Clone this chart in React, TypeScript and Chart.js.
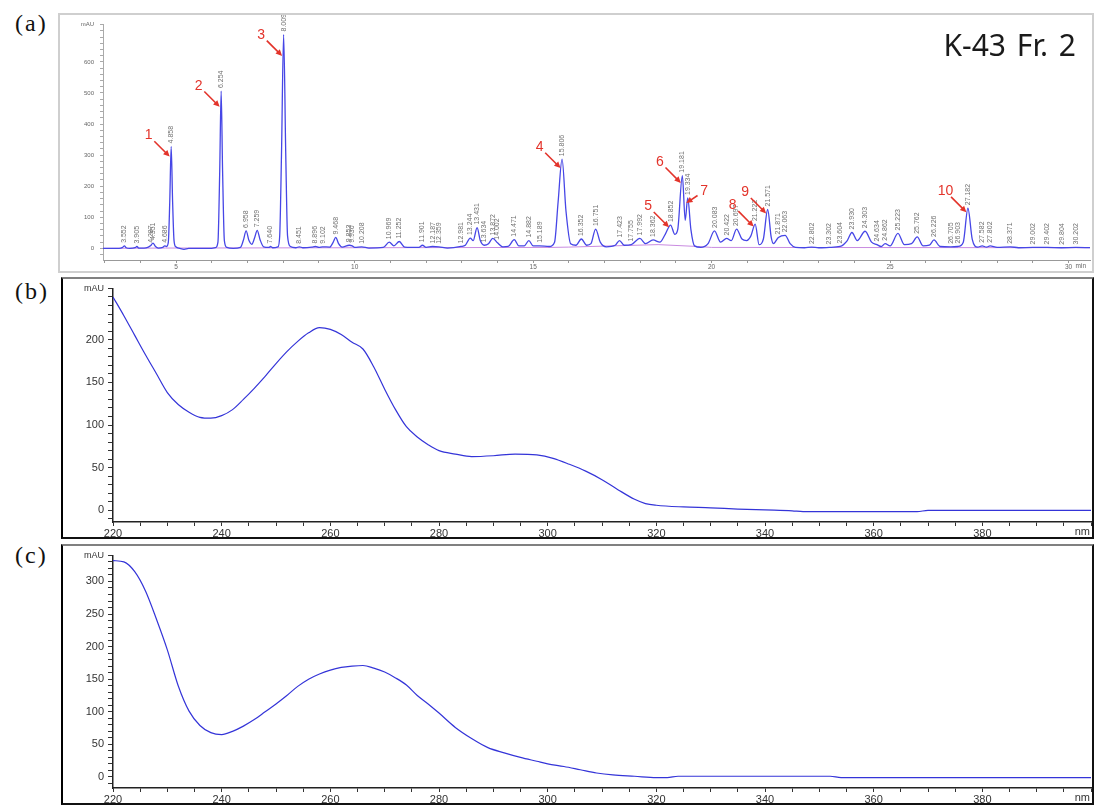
import React, { useEffect, useRef } from 'react';
import { Chart, registerables } from 'chart.js';
Chart.register(...registerables);

// ---------- Panel (a): HPLC chromatogram ----------
const chromTime = [
  2.95, 3.4, 3.5, 3.55, 3.6, 3.7, 3.85, 3.9, 3.95, 4.1, 4.22, 4.28, 4.35, 4.42, 4.5, 4.62, 4.68, 4.73,
  4.78, 4.82, 4.86, 4.9, 4.94, 4.99, 5.1, 5.22, 5.35, 6.0, 6.1, 6.17, 6.22, 6.26, 6.3, 6.35, 6.42, 6.6,
  6.8, 6.88, 6.96, 7.04, 7.12, 7.2, 7.27, 7.35, 7.45, 7.6, 7.64, 7.7, 7.85, 7.9, 7.95, 8.01, 8.07, 8.12,
  8.2, 8.35, 8.45, 8.55, 8.8, 8.9, 9.0, 9.1, 9.3, 9.4, 9.47, 9.55, 9.65, 9.85, 9.93, 10.0, 10.2, 10.4,
  10.8, 10.97, 11.1, 11.25, 11.4, 11.8, 11.9, 12.0, 12.18, 12.36, 12.6, 12.98, 13.1, 13.24, 13.32, 13.43,
  13.52, 13.63, 13.75, 13.87, 14.0, 14.15, 14.3, 14.47, 14.6, 14.75, 14.88, 15.0, 15.18, 15.45, 15.6,
  15.7, 15.81, 15.92, 16.05, 16.2, 16.35, 16.5, 16.62, 16.75, 16.88, 17.05, 17.3, 17.42, 17.55, 17.75,
  17.99, 18.15, 18.36, 18.55, 18.7, 18.85, 18.97, 19.05, 19.18, 19.26, 19.33, 19.42, 19.52, 19.7, 19.9,
  20.08, 20.25, 20.42, 20.55, 20.7, 20.85, 20.98, 21.1, 21.22, 21.33, 21.45, 21.57, 21.67, 21.73, 21.87,
  22.06, 22.2, 22.35, 22.6, 22.8, 23.0, 23.3, 23.6, 23.8, 23.93, 24.08, 24.3, 24.48, 24.63, 24.75, 24.86,
  25.0, 25.22, 25.4, 25.6, 25.76, 25.92, 26.1, 26.23, 26.4, 26.7, 26.9, 27.05, 27.18, 27.3, 27.45, 27.58,
  27.7, 27.8, 28.0, 28.37, 28.6, 29.0, 29.4, 29.8, 30.2, 30.6,
];
const chromMAU = [
  0, 0, 3, 8, 2, 0, 2, 6, 1, 1, 4, 8, 17, 6, 1, 3, 8, 6,
  20, 150, 328, 150, 25, 5, 0, -3, 0, 0, 2, 20, 250, 506, 250, 25, 3, 0,
  3, 25, 56, 25, 13, 35, 58, 28, 5, 3, 6, 2, 5, 40, 300, 688, 300, 40,
  6, 2, 5, 2, 4, 6, 3, 5, 4, 20, 35, 15, 4, 10, 8, 3, 5, 1,
  3, 20, 8, 22, 4, 3, 10, 3, 6, 5, 1, 6, 10, 33, 25, 67,
  25, 10, 15, 32, 18, 5, 6, 28, 8, 8, 25, 8, 8, 6, 20,
  150, 287, 120, 15, 10, 30, 10, 15, 62, 20, 5, 10, 25, 10, 12,
  32, 15, 27, 20, 45, 75, 45, 60, 234, 90, 162, 60, 8, 3, 15,
  56, 20, 32, 25, 62, 30, 25, 40, 78, 12, 30, 125, 35, 15, 35,
  42, 15, 3, 2, 4, 2, 3, 6, 25, 51, 25, 55, 20, 12, 6, 15,
  8, 48, 12, 15, 37, 8, 10, 27, 6, 5, 6, 20, 129, 30, 4, 8,
  4, 8, 3, 5, 2, 3, 3, 2, 3, 2,
];
const baseTime = [2.95, 4.7, 5.0, 15.5, 16.0, 18.5, 19.6, 20.0, 30.6];
const baseMAU = [0, 1, 1, 3, 4, 12, 6, 3, 2];
const rtLabels = [
  3.552, 3.905, 4.287, 4.351, 4.686, 4.858, 6.254, 6.958, 7.259, 7.640, 8.009, 8.451, 8.896, 9.102,
  9.468, 9.853, 9.930, 10.208, 10.969, 11.252, 11.901, 12.187, 12.359, 12.981, 13.244, 13.431, 13.634,
  13.872, 14.002, 14.471, 14.882, 15.189, 15.806, 16.352, 16.751, 17.423, 17.755, 17.992, 18.362,
  18.852, 19.181, 19.334, 20.083, 20.422, 20.697, 21.222, 21.571, 21.871, 22.063, 22.802, 23.302,
  23.604, 23.930, 24.303, 24.634, 24.862, 25.223, 25.762, 26.226, 26.705, 26.903, 27.182, 27.582,
  27.802, 28.371, 29.002, 29.402, 29.804, 30.202,
];
const peakIds = ['1', '2', '3', '4', '5', '6', '7', '8', '9', '10'];
const peakTimes = [4.86, 6.26, 8.01, 15.81, 18.85, 19.18, 19.33, 21.22, 21.57, 27.18];
const chromXLabels = [5, 10, 15, 20, 25, 30];
const chromYLabels = [0, 100, 200, 300, 400, 500, 600];

// ---------- Panel (b): UV spectrum ----------
const uvB_nm = [
  220, 222, 224, 226, 228, 230, 232, 234, 236, 238, 240, 242, 244, 246, 248, 250, 252, 254, 256, 258,
  260, 262, 264, 266, 268, 270, 272, 274, 276, 278, 280, 283, 286, 290, 294, 298, 301, 304, 307, 310,
  313, 316, 318, 320, 325, 330, 335, 340, 345, 347, 360, 368, 370, 380, 390, 400,
];
const uvB_mAU = [
  250, 228, 205, 182, 160, 138, 124, 115, 109, 108, 111, 118, 130, 143, 157, 172, 186, 198, 208, 214,
  212, 206, 197, 189, 168, 142, 118, 98, 86, 77, 70, 66, 63, 64, 66, 65, 61, 54, 46, 36,
  24, 13, 8, 6, 4, 3, 1.5, 0.5, -0.5, -1.5, -1.5, -1.5, 0, 0, 0, 0,
];

// ---------- Panel (c): UV spectrum ----------
const uvC_nm = [
  220, 222, 224, 226, 228, 230, 232, 234, 236, 238, 240, 242, 244, 246, 248, 250, 252, 254, 256, 258,
  260, 262, 264, 266, 268, 270, 272, 274, 276, 278, 280, 283, 286, 289, 292, 295, 298, 300, 303, 306,
  309, 312, 316, 320, 322, 324, 330, 340, 352, 354, 370, 400,
];
const uvC_mAU = [
  332, 330, 315, 285, 242, 195, 140, 101, 79, 68, 65, 70, 78, 88, 100, 112, 125, 139, 150, 158,
  164, 168, 170, 171, 167, 161, 152, 141, 125, 112, 98, 76, 59, 45, 37, 30, 24, 20, 16, 11,
  6, 3, 1, -1, -1, 1, 1, 1, 1, -1, -1, -1,
];
const uvXLabels = [220, 240, 260, 280, 300, 320, 340, 360, 380];

// ---------- styles ----------
const FONT = '"Liberation Sans", Arial, sans-serif';
const RED = '#e3342b';
const annoOffset = { dx: -21, dy: -21, dx7: 18, dy7: -12, tipFrac: 0.9 };

function localMax(t: number) {
  let m = -Infinity;
  chromTime.forEach((tt, i) => {
    if (Math.abs(tt - t) <= 0.06) m = Math.max(m, chromMAU[i]);
  });
  return m === -Infinity ? 0 : m;
}

const chromPlugin = {
  id: 'chromAnno',
  afterDatasetsDraw(chart: any) {
    const { ctx, scales } = chart;
    const x = scales.x, y = scales.y;
    ctx.save();
    // retention time labels
    ctx.font = `7px ${FONT}`;
    ctx.fillStyle = '#707070';
    ctx.textAlign = 'left';
    ctx.textBaseline = 'middle';
    rtLabels.forEach((t) => {
      const v = localMax(t);
      const px = x.getPixelForValue(t);
      const py = y.getPixelForValue(v);
      ctx.save();
      ctx.translate(px, py - 3);
      ctx.rotate(-Math.PI / 2);
      ctx.fillText(t.toFixed(3), 0, 0);
      ctx.restore();
    });
    // red numbered arrows
    peakIds.forEach((id, i) => {
      const t = peakTimes[i];
      const v = localMax(t);
      const tipX = x.getPixelForValue(t) - 1.5;
      const tipY = y.getPixelForValue(v * annoOffset.tipFrac);
      const dx = id === '7' ? annoOffset.dx7 : annoOffset.dx;
      const dy = id === '7' ? annoOffset.dy7 : annoOffset.dy;
      const lx = tipX + dx, ly = tipY + dy;
      const ang = Math.atan2(tipY - ly, tipX - lx);
      const sx = lx + Math.cos(ang) * 8, sy = ly + Math.sin(ang) * 8;
      ctx.strokeStyle = RED;
      ctx.fillStyle = RED;
      ctx.lineWidth = 1.6;
      ctx.beginPath();
      ctx.moveTo(sx, sy);
      ctx.lineTo(tipX - Math.cos(ang) * 4, tipY - Math.sin(ang) * 4);
      ctx.stroke();
      ctx.beginPath();
      ctx.moveTo(tipX, tipY);
      ctx.lineTo(tipX - Math.cos(ang - 0.45) * 7, tipY - Math.sin(ang - 0.45) * 7);
      ctx.lineTo(tipX - Math.cos(ang + 0.45) * 7, tipY - Math.sin(ang + 0.45) * 7);
      ctx.closePath();
      ctx.fill();
      ctx.font = `14px ${FONT}`;
      ctx.textAlign = 'center';
      ctx.textBaseline = 'middle';
      ctx.fillText(id, lx, ly);
    });
    // "min" unit
    ctx.font = `6.5px ${FONT}`;
    ctx.fillStyle = '#666';
    ctx.textAlign = 'left';
    ctx.textBaseline = 'top';
    ctx.fillText('min', x.getPixelForValue(30) + 7, x.top + 3);
    ctx.restore();
  },
};

const nmPlugin = {
  id: 'nmUnit',
  afterDraw(chart: any) {
    const { ctx, chartArea, scales } = chart;
    ctx.save();
    ctx.font = `11px ${FONT}`;
    ctx.fillStyle = '#333';
    ctx.textAlign = 'right';
    ctx.textBaseline = 'top';
    ctx.fillText('nm', chartArea.right - 1, scales.x.top + 4);
    ctx.restore();
  },
};

function makeChrom() {
  return {
    type: 'line',
    data: {
      datasets: [
        {
          data: chromTime.map((t, i) => ({ x: t, y: chromMAU[i] })),
          borderColor: '#4646e6',
          borderWidth: 1.3,
          pointRadius: 0,
          cubicInterpolationMode: 'monotone',
          fill: false,
        },
        {
          data: baseTime.map((t, i) => ({ x: t, y: baseMAU[i] })),
          borderColor: '#c98be0',
          borderWidth: 1,
          pointRadius: 0,
          fill: false,
        },
      ],
    },
    options: {
      responsive: false,
      animation: false,
      events: [],
      layout: { padding: { top: 3, right: 2, left: 0, bottom: 0 }, autoPadding: false },
      plugins: { legend: { display: false }, tooltip: { enabled: false } },
      scales: {
        x: {
          type: 'linear',
          min: 2.95,
          max: 30.6,
          afterFit: (s: any) => { s.height = 11; },
          ticks: {
            stepSize: 1, autoSkip: false, maxRotation: 0, includeBounds: false, padding: 0,
            font: { size: 6.5, family: FONT }, color: '#666',
            callback: (v: number) => (chromXLabels.includes(v) ? String(v) : ''),
          },
          grid: { drawOnChartArea: false, drawTicks: true, tickLength: 3, color: '#999' },
          border: { color: '#999', width: 1 },
        },
        y: {
          min: -37.5,
          max: 720,
          afterFit: (s: any) => { s.width = 43; },
          ticks: {
            stepSize: 20, autoSkip: false, includeBounds: false, padding: 6,
            font: { size: 6, family: FONT }, color: '#666',
            callback: (v: number) => (v === 720 ? 'mAU' : chromYLabels.includes(v) ? String(v) : ''),
          },
          grid: { drawOnChartArea: false, drawTicks: true, tickLength: 3, color: '#aaa' },
          border: { color: '#aaa', width: 1 },
        },
      },
    },
    plugins: [chromPlugin],
  };
}

function makeUV(nm: number[], vals: number[], yMin: number, yMax: number, yLabels: number[]) {
  return {
    type: 'line',
    data: {
      datasets: [
        {
          data: nm.map((w, i) => ({ x: w, y: vals[i] })),
          borderColor: '#3434d8',
          borderWidth: 1.2,
          pointRadius: 0,
          cubicInterpolationMode: 'monotone',
          fill: false,
        },
      ],
    },
    options: {
      responsive: false,
      animation: false,
      events: [],
      layout: { padding: { top: yMax === 260 ? 2 : 4, right: 0, left: 0, bottom: 0 }, autoPadding: false },
      plugins: { legend: { display: false }, tooltip: { enabled: false } },
      scales: {
        x: {
          type: 'linear',
          min: 220,
          max: 400,
          afterFit: (s: any) => { s.height = 15; },
          ticks: {
            stepSize: 5, autoSkip: false, maxRotation: 0, includeBounds: false, padding: 1,
            font: { size: 11, family: FONT }, color: '#333',
            callback: (v: number) => (uvXLabels.includes(v) ? String(v) : ''),
          },
          grid: { drawOnChartArea: false, drawTicks: true, tickLength: 4, color: '#333' },
          border: { color: '#222', width: 1.5 },
        },
        y: {
          min: yMin,
          max: yMax,
          afterFit: (s: any) => { s.width = 50; },
          ticks: {
            stepSize: 10, autoSkip: false, includeBounds: false, padding: 4,
            font: (c: any) => ({ size: c.tick && c.tick.value === yMax ? 9 : 11, family: FONT }),
            color: '#333',
            callback: (v: number) => (v === yMax ? 'mAU' : yLabels.includes(v) ? String(v) : ''),
          },
          grid: { drawOnChartArea: false, drawTicks: true, tickLength: 5, color: '#333' },
          border: { color: '#222', width: 1.5 },
        },
      },
    },
    plugins: [nmPlugin],
  };
}

function ChartCanvas(props: { left: number; top: number; width: number; height: number; make: () => any }) {
  const ref = useRef<HTMLCanvasElement>(null);
  useEffect(() => {
    const chart = new Chart(ref.current as HTMLCanvasElement, props.make());
    return () => chart.destroy();
  }, []);
  return (
    <canvas
      ref={ref}
      width={props.width}
      height={props.height}
      style={{ position: 'absolute', left: props.left, top: props.top, width: props.width, height: props.height, display: 'block' }}
    />
  );
}

const panelLabel = (top: number): React.CSSProperties => ({
  position: 'absolute', left: 15, top, fontFamily: '"Liberation Serif", "DejaVu Serif", serif',
  fontSize: 24, lineHeight: '24px', letterSpacing: 2, color: '#111', whiteSpace: 'nowrap',
});

export default function App() {
  return (
    <div style={{ position: 'absolute', left: 0, top: 0, width: 1108, height: 808, background: '#fff', overflow: 'hidden' }}>
      <div style={panelLabel(11)}>(a)</div>
      <div style={panelLabel(279)}>(b)</div>
      <div style={panelLabel(543)}>(c)</div>

      {/* panel (a) frame */}
      <div style={{ position: 'absolute', left: 58, top: 13, width: 1036, height: 260, boxSizing: 'border-box', border: '2px solid #cfcfcf' }} />
      <ChartCanvas left={60} top={15} width={1032} height={256} make={makeChrom} />
      <div style={{ position: 'absolute', right: 32, top: 30, fontFamily: '"Noto Sans", "Open Sans", sans-serif', fontSize: 30, lineHeight: '30px', color: '#1a1a1a', whiteSpace: 'nowrap', wordSpacing: 3 }}>
        K-43 Fr. 2
      </div>

      {/* panel (b) frame */}
      <div style={{ position: 'absolute', left: 61, top: 277, width: 1033, height: 262, boxSizing: 'border-box', borderLeft: '2px solid #000', borderTop: '2px solid #808080', borderRight: '2px solid #111', borderBottom: '2px solid #111' }} />
      <ChartCanvas left={63} top={279} width={1029} height={258} make={() => makeUV(uvB_nm, uvB_mAU, -13.6, 260, [0, 50, 100, 150, 200])} />

      {/* panel (c) frame */}
      <div style={{ position: 'absolute', left: 61, top: 544, width: 1033, height: 261, boxSizing: 'border-box', borderLeft: '2px solid #000', borderTop: '2px solid #808080', borderRight: '2px solid #111', borderBottom: '2px solid #111' }} />
      <ChartCanvas left={63} top={546} width={1029} height={257} make={() => makeUV(uvC_nm, uvC_mAU, -17, 340, [0, 50, 100, 150, 200, 250, 300])} />
    </div>
  );
}
